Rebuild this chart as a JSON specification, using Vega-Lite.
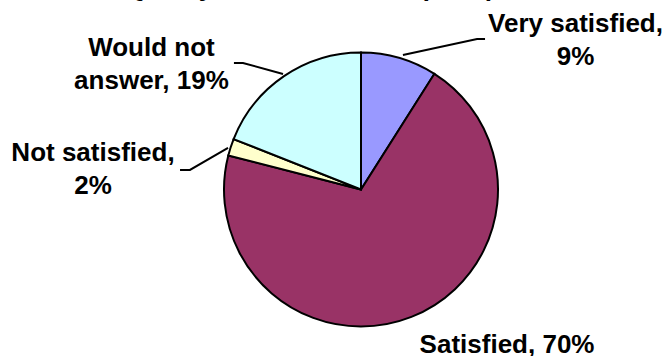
{
  "$schema": "https://vega.github.io/schema/vega-lite/v6.json",
  "autosize": {"type": "none"},
  "width": 610,
  "height": 333,
  "padding": {"left": 56, "top": 23, "right": 0, "bottom": 0},
  "background": "white",
  "config": {"view": {"stroke": null}},
  "title": {
    "text": "Quality and Orientation (2004)",
    "font": "Liberation Sans",
    "fontSize": 26,
    "fontWeight": "bold",
    "color": "black",
    "anchor": "middle",
    "frame": "group",
    "baseline": "alphabetic",
    "offset": 0,
    "dx": -51,
    "dy": 11
  },
  "datasets": {
    "slices": [
      {"response": "Very satisfied", "percent": 9, "order": 1},
      {"response": "Satisfied", "percent": 70, "order": 2},
      {"response": "Not satisfied", "percent": 2, "order": 3},
      {"response": "Would not answer", "percent": 19, "order": 4}
    ],
    "labels": [
      {"label": "Very satisfied,\n9%", "x": 1.56, "y": 1.145},
      {"label": "Satisfied, 70%", "x": 1.062, "y": -1.189},
      {"label": "Not satisfied,\n2%", "x": -1.949, "y": 0.207},
      {"label": "Would not\nanswer, 19%", "x": -1.524, "y": 0.971}
    ],
    "leaders": [
      {"slice": "Very satisfied", "step": 1, "x": 0.305, "y": 0.978},
      {"slice": "Very satisfied", "step": 2, "x": 0.844, "y": 1.095},
      {"slice": "Very satisfied", "step": 3, "x": 0.902, "y": 1.095},
      {"slice": "Would not answer", "step": 1, "x": -0.567, "y": 0.84},
      {"slice": "Would not answer", "step": 2, "x": -0.858, "y": 0.92},
      {"slice": "Would not answer", "step": 3, "x": -0.924, "y": 0.92},
      {"slice": "Not satisfied", "step": 1, "x": -0.967, "y": 0.302},
      {"slice": "Not satisfied", "step": 2, "x": -1.244, "y": 0.142},
      {"slice": "Not satisfied", "step": 3, "x": -1.316, "y": 0.142}
    ]
  },
  "layer": [
    {
      "data": {"name": "slices"},
      "mark": {"type": "arc", "outerRadius": 137, "stroke": "black", "strokeWidth": 2},
      "encoding": {
        "theta": {"field": "percent", "type": "quantitative", "stack": true},
        "order": {"field": "order", "type": "quantitative"},
        "color": {
          "field": "response",
          "type": "nominal",
          "scale": {
            "domain": ["Very satisfied", "Satisfied", "Not satisfied", "Would not answer"],
            "range": ["#9999FF", "#993366", "#FFFFCC", "#CCFFFF"]
          },
          "legend": null
        }
      }
    },
    {
      "data": {"name": "leaders"},
      "mark": {"type": "line", "color": "black", "strokeWidth": 2},
      "encoding": {
        "x": {"field": "x", "type": "quantitative", "scale": {"domain": [-2.218, 2.218], "nice": false, "zero": false}, "axis": null},
        "y": {"field": "y", "type": "quantitative", "scale": {"domain": [-1.211, 1.211], "nice": false, "zero": false}, "axis": null},
        "detail": {"field": "slice", "type": "nominal"},
        "order": {"field": "step", "type": "quantitative"}
      }
    },
    {
      "data": {"name": "labels"},
      "mark": {
        "type": "text",
        "font": "Liberation Sans",
        "fontSize": 26,
        "fontWeight": "bold",
        "color": "black",
        "align": "center",
        "baseline": "alphabetic",
        "lineBreak": "\n",
        "lineHeight": 33
      },
      "encoding": {
        "x": {"field": "x", "type": "quantitative", "scale": {"domain": [-2.218, 2.218], "nice": false, "zero": false}, "axis": null},
        "y": {"field": "y", "type": "quantitative", "scale": {"domain": [-1.211, 1.211], "nice": false, "zero": false}, "axis": null},
        "text": {"field": "label", "type": "nominal"}
      }
    }
  ]
}
